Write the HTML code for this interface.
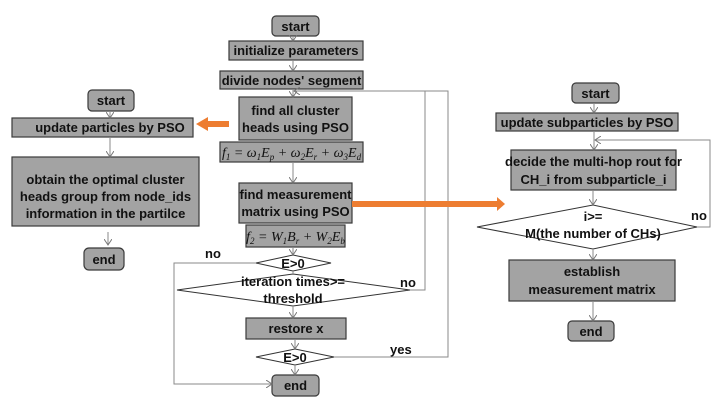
<!DOCTYPE html>
<html><head><style>
body{margin:0;background:#fff;}
svg text{font-family:"Liberation Sans",Arial,sans-serif;font-weight:bold;font-size:13px;fill:#111;}
.b{fill:#a3a3a3;stroke:#3a3a3a;stroke-width:1.2;}
.l{stroke:#8a8a8a;stroke-width:1;fill:none;}
svg text.m{font-family:"Liberation Serif",serif;font-style:italic;font-weight:normal;font-size:14px;}
.s{font-size:9px;}
</style></head><body>
<svg width="723" height="409" viewBox="0 0 723 409" xmlns="http://www.w3.org/2000/svg">
<defs><marker id="a" markerWidth="8" markerHeight="8" refX="6" refY="4" orient="auto" markerUnits="userSpaceOnUse"><path d="M0,0 L6,4 L0,8" fill="none" stroke="#777" stroke-width="1"/></marker></defs>

<!-- center column -->
<rect class="b" x="272" y="16" width="47" height="20" rx="4"/><text x="295.5" y="31" text-anchor="middle">start</text>
<rect class="b" x="229" y="41" width="134" height="19"/><text x="296" y="55" text-anchor="middle">initialize parameters</text>
<rect class="b" x="220" y="71" width="143" height="18"/><text x="291.5" y="85" text-anchor="middle">divide nodes' segment</text>
<rect class="b" x="239" y="97" width="113" height="43"/><text x="295.5" y="115" text-anchor="middle">find all cluster</text><text x="295.5" y="132" text-anchor="middle">heads using PSO</text>
<rect class="b" x="220" y="142" width="143" height="20"/><text class="m" x="291.5" y="157" text-anchor="middle">f<tspan class="s" dy="3">1</tspan><tspan dy="-3"> = ω</tspan><tspan class="s" dy="3">1</tspan><tspan dy="-3">E</tspan><tspan class="s" dy="3">p</tspan><tspan dy="-3"> + ω</tspan><tspan class="s" dy="3">2</tspan><tspan dy="-3">E</tspan><tspan class="s" dy="3">r</tspan><tspan dy="-3"> + ω</tspan><tspan class="s" dy="3">3</tspan><tspan dy="-3">E</tspan><tspan class="s" dy="3">d</tspan></text>
<rect class="b" x="239" y="183" width="113" height="40"/><text x="295.5" y="199" text-anchor="middle">find measurement</text><text x="295.5" y="216" text-anchor="middle">matrix using PSO</text>
<rect class="b" x="246" y="225" width="99" height="22"/><text class="m" x="295.5" y="241" text-anchor="middle">f<tspan class="s" dy="3">2</tspan><tspan dy="-3"> = W</tspan><tspan class="s" dy="3">1</tspan><tspan dy="-3">B</tspan><tspan class="s" dy="3">r</tspan><tspan dy="-3"> + W</tspan><tspan class="s" dy="3">2</tspan><tspan dy="-3">E</tspan><tspan class="s" dy="3">b</tspan></text>
<polygon points="256,263 293,255 331,263 293,271" fill="#fff" stroke="#333"/><text x="293" y="268" text-anchor="middle">E&gt;0</text>
<polygon points="177,290 293,274 410,290 293,306" fill="#fff" stroke="#333"/><text x="293" y="286" text-anchor="middle">iteration times&gt;=</text><text x="293" y="303" text-anchor="middle">threshold</text>
<rect class="b" x="246" y="318" width="100" height="21"/><text x="296" y="333" text-anchor="middle">restore x</text>
<polygon points="256,357 295,349 334,357 295,365" fill="#fff" stroke="#333"/><text x="295" y="362" text-anchor="middle">E&gt;0</text>
<rect class="b" x="272" y="375" width="47" height="21" rx="4"/><text x="295.5" y="390" text-anchor="middle">end</text>
<text x="205" y="258">no</text><text x="400" y="287">no</text><text x="390" y="354">yes</text>

<line class="l" x1="293" y1="36" x2="293" y2="41" marker-end="url(#a)"/>
<line class="l" x1="293" y1="60" x2="293" y2="71" marker-end="url(#a)"/>
<line class="l" x1="293" y1="89" x2="293" y2="97" marker-end="url(#a)"/>
<line class="l" x1="293" y1="162" x2="293" y2="183" marker-end="url(#a)"/>
<line class="l" x1="293" y1="247" x2="293" y2="255" marker-end="url(#a)"/>
<line class="l" x1="293" y1="271" x2="293" y2="274" />
<line class="l" x1="293" y1="306" x2="293" y2="318" marker-end="url(#a)"/>
<line class="l" x1="295" y1="339" x2="295" y2="349" marker-end="url(#a)"/>
<line class="l" x1="295" y1="365" x2="295" y2="375" marker-end="url(#a)"/>
<polyline class="l" points="256,263 174,263 174,384 272,384" marker-end="url(#a)"/>
<polyline class="l" points="410,290 425,290 425,91"/>
<polyline class="l" points="334,357 448,357 448,91 294,91" marker-end="url(#a)"/>

<!-- left column -->
<rect class="b" x="88" y="90" width="46" height="21" rx="4"/><text x="111" y="105" text-anchor="middle">start</text>
<rect class="b" x="12" y="118" width="181" height="19"/><text x="110" y="132" text-anchor="middle">update particles by PSO</text>
<rect class="b" x="12" y="157" width="187" height="69"/><text x="105.5" y="184" text-anchor="middle">obtain the optimal cluster</text><text x="105.5" y="201" text-anchor="middle">heads group from node_ids</text><text x="105.5" y="218" text-anchor="middle">information in the partilce</text>
<rect class="b" x="84" y="248" width="40" height="22" rx="5"/><text x="104" y="264" text-anchor="middle">end</text>
<line class="l" x1="110" y1="111" x2="110" y2="118" marker-end="url(#a)"/>
<line class="l" x1="110" y1="137" x2="110" y2="157" marker-end="url(#a)"/>
<line class="l" x1="108" y1="232" x2="108" y2="245" marker-end="url(#a)"/>

<!-- right column -->
<rect class="b" x="572" y="83" width="47" height="20" rx="4"/><text x="595.5" y="98" text-anchor="middle">start</text>
<rect class="b" x="496" y="113" width="182" height="18"/><text x="587" y="127" text-anchor="middle">update subparticles by PSO</text>
<rect class="b" x="511" y="150" width="165" height="40"/><text x="593.5" y="166" text-anchor="middle">decide the multi-hop rout for</text><text x="593.5" y="184" text-anchor="middle">CH_i  from subparticle_i</text>
<polygon points="477,227 593,205 697,227 593,249" fill="#fff" stroke="#333"/><text x="593" y="221" text-anchor="middle">i&gt;=</text><text x="593" y="238" text-anchor="middle">M(the number of CHs)</text>
<rect class="b" x="509" y="260" width="166" height="41"/><text x="592" y="276" text-anchor="middle">establish</text><text x="592" y="294" text-anchor="middle">measurement matrix</text>
<rect class="b" x="568" y="321" width="46" height="20" rx="4"/><text x="591" y="336" text-anchor="middle">end</text>
<text x="691" y="220">no</text>
<line class="l" x1="594" y1="103" x2="594" y2="113" marker-end="url(#a)"/>
<line class="l" x1="594" y1="131" x2="594" y2="150" marker-end="url(#a)"/>
<line class="l" x1="593" y1="190" x2="593" y2="205" marker-end="url(#a)"/>
<line class="l" x1="593" y1="249" x2="593" y2="260" marker-end="url(#a)"/>
<line class="l" x1="593" y1="301" x2="593" y2="321" marker-end="url(#a)"/>
<polyline class="l" points="697,227 710,227 710,140 595,140" marker-end="url(#a)"/>

<!-- orange arrows -->
<rect x="207" y="121" width="22" height="6" fill="#ed7d31"/>
<polygon points="196,124 208,117 208,131" fill="#ed7d31"/>
<rect x="352" y="201" width="146" height="6" fill="#ed7d31"/>
<polygon points="505,204 497,197 497,211" fill="#ed7d31"/>
</svg>
</body></html>
